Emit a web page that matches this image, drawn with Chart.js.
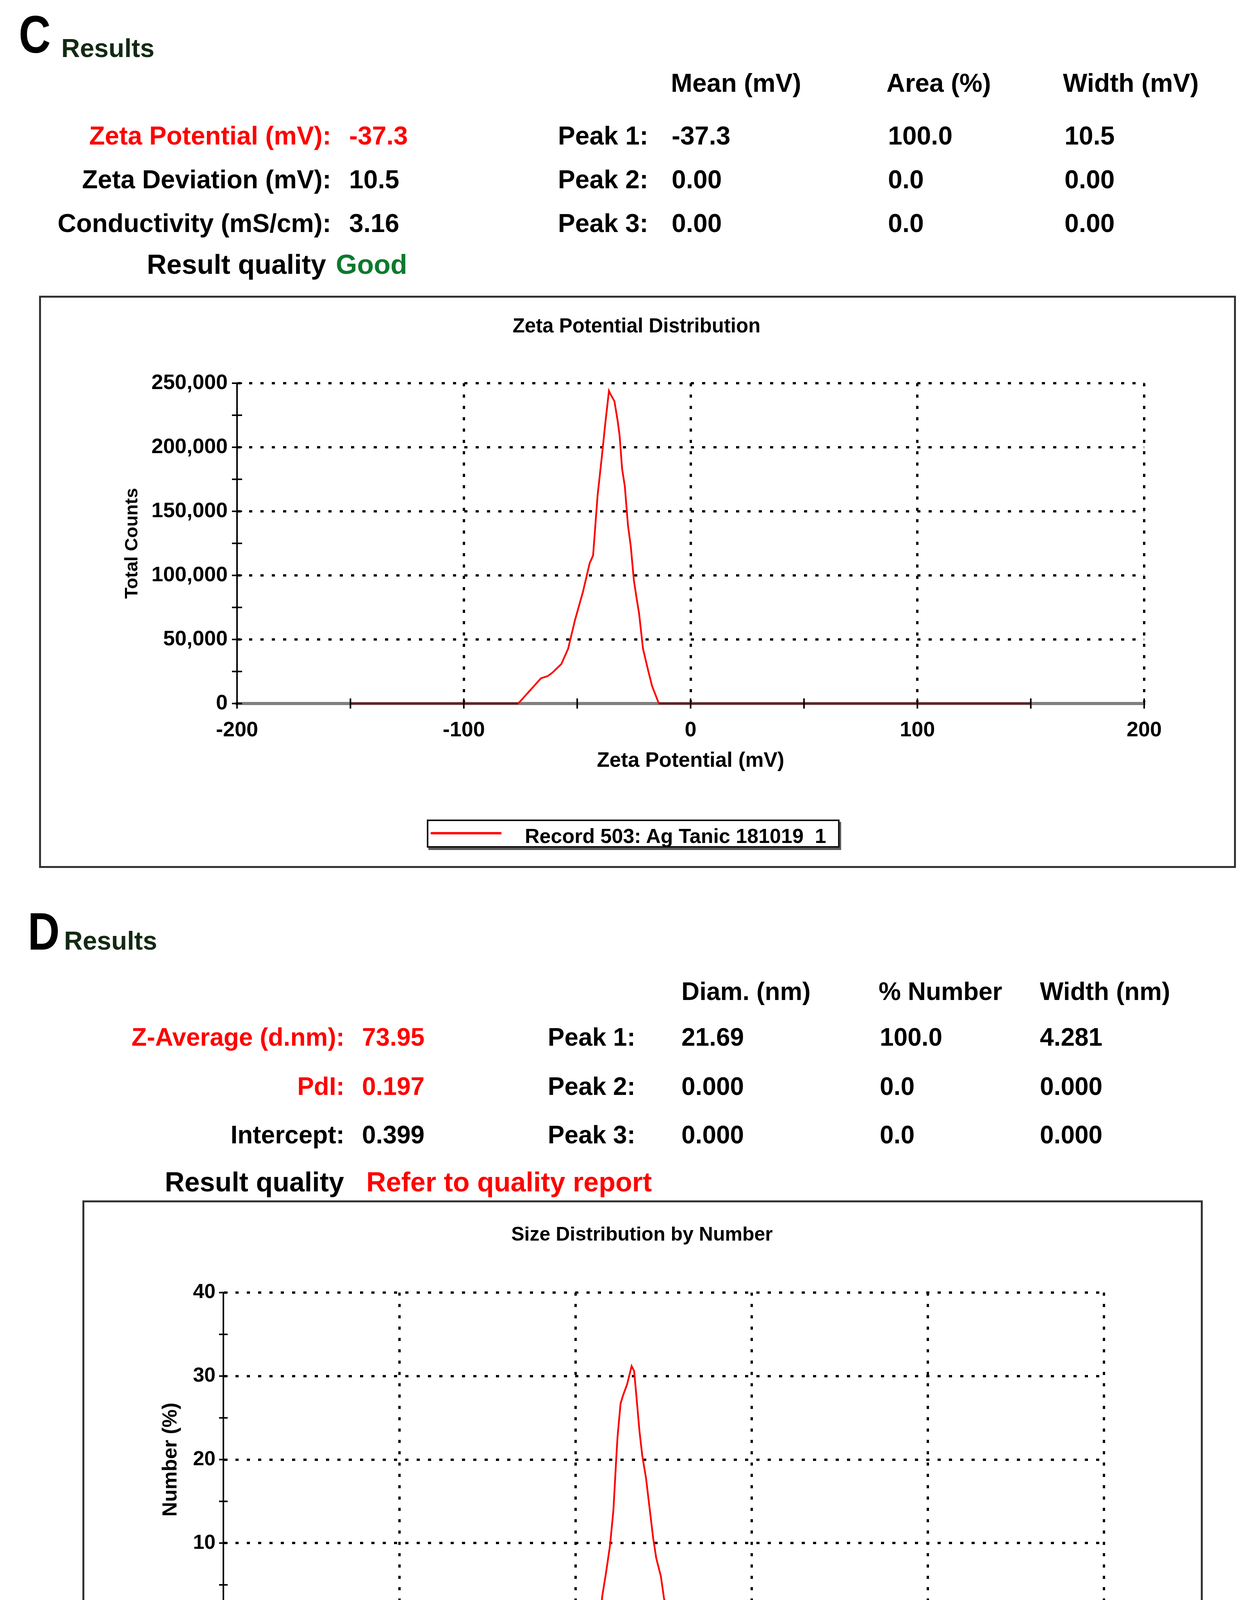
<!DOCTYPE html>
<html>
<head>
<meta charset="utf-8">
<title>Zeta potential and size distribution</title>
<script src="https://cdn.jsdelivr.net/npm/chart.js@4.4.1/dist/chart.umd.min.js"></script>
<style>
  body { margin: 0; background: #fff; }
  #page { position: relative; width: 3201px; height: 4631px; overflow: hidden; background: #fff; }
  .t { position: absolute; white-space: nowrap; line-height: 1; font-family: "Liberation Sans", Arial, Helvetica, sans-serif; font-weight: bold; color: #000; }
  .s66 { font-size: 66px; }
  .s64 { font-size: 64px; }
  .s70 { font-size: 70px; }
  .red { color: #ff0000; }
  .green { color: #0b7a2e; }
  .big { font-size: 135px; transform: scaleX(0.84); transform-origin: left top; }
  .res { font-size: 66px; color: #122a12; }
  .ctitle { transform: translateX(-50%); }
  .box { position: absolute; box-sizing: border-box; border: 5px solid #333; }
  .legend { position: absolute; box-sizing: border-box; border: 4px solid #111; background: #fff; box-shadow: 4px 6px 0 #5a5a5a; }
  .lline { position: absolute; background: #ff0000; }
  canvas { position: absolute; }
</style>
</head>
<body>
<div id="page">
  <!-- panel C header -->
  <div class="t big" style="left:48px; top:21px;">C</div>
  <div class="t res" style="left:157px; top:90px;">Results</div>

  <div class="t s66" style="left:1718px; top:179px;">Mean (mV)</div>
  <div class="t s66" style="left:2270px; top:179px;">Area (%)</div>
  <div class="t s66" style="left:2722px; top:179px;">Width (mV)</div>

  <div class="t s66 red" style="right:2353px; top:314px;">Zeta Potential (mV):</div>
  <div class="t s66 red" style="left:894px; top:314px;">-37.3</div>
  <div class="t s66" style="right:1541px; top:314px;">Peak 1:</div>
  <div class="t s66" style="left:1720px; top:314px;">-37.3</div>
  <div class="t s66" style="left:2274px; top:314px;">100.0</div>
  <div class="t s66" style="left:2726px; top:314px;">10.5</div>

  <div class="t s66" style="right:2353px; top:426px;">Zeta Deviation (mV):</div>
  <div class="t s66" style="left:894px; top:426px;">10.5</div>
  <div class="t s66" style="right:1541px; top:426px;">Peak 2:</div>
  <div class="t s66" style="left:1720px; top:426px;">0.00</div>
  <div class="t s66" style="left:2274px; top:426px;">0.0</div>
  <div class="t s66" style="left:2726px; top:426px;">0.00</div>

  <div class="t s66" style="right:2353px; top:538px;">Conductivity (mS/cm):</div>
  <div class="t s66" style="left:894px; top:538px;">3.16</div>
  <div class="t s66" style="right:1541px; top:538px;">Peak 3:</div>
  <div class="t s66" style="left:1720px; top:538px;">0.00</div>
  <div class="t s66" style="left:2274px; top:538px;">0.0</div>
  <div class="t s66" style="left:2726px; top:538px;">0.00</div>

  <div class="t s70" style="left:376px; top:642px;">Result quality</div>
  <div class="t s70 green" style="left:860px; top:642px;">Good</div>

  <!-- panel C chart -->
  <div class="box" style="left:100px; top:757px; width:3065px; height:1465px;"></div>
  <div class="t ctitle" style="left:1630px; top:808px; font-size:51px;">Zeta Potential Distribution</div>
  <canvas id="zetaChart" width="2800" height="1130" style="left:250px; top:900px; width:2800px; height:1130px;"></canvas>
  <div class="legend" style="left:1093px; top:2098px; width:1057px; height:72px;"></div>
  <div class="lline" style="left:1103px; top:2130px; width:181px; height:6px;"></div>
  <div class="t" style="left:1344px; top:2114px; font-size:52px;">Record 503: Ag Tanic 181019&nbsp; 1</div>

  <!-- panel D header -->
  <div class="t big" style="left:71px; top:2317px;">D</div>
  <div class="t res" style="left:164px; top:2375px;">Results</div>

  <div class="t s64" style="left:1745px; top:2506px;">Diam. (nm)</div>
  <div class="t s64" style="left:2250px; top:2506px;">% Number</div>
  <div class="t s64" style="left:2663px; top:2506px;">Width (nm)</div>

  <div class="t s64 red" style="right:2319px; top:2623px;">Z-Average (d.nm):</div>
  <div class="t s64 red" style="left:927px; top:2623px;">73.95</div>
  <div class="t s64" style="right:1574px; top:2623px;">Peak 1:</div>
  <div class="t s64" style="left:1745px; top:2623px;">21.69</div>
  <div class="t s64" style="left:2253px; top:2623px;">100.0</div>
  <div class="t s64" style="left:2663px; top:2623px;">4.281</div>

  <div class="t s64 red" style="right:2319px; top:2749px;">PdI:</div>
  <div class="t s64 red" style="left:927px; top:2749px;">0.197</div>
  <div class="t s64" style="right:1574px; top:2749px;">Peak 2:</div>
  <div class="t s64" style="left:1745px; top:2749px;">0.000</div>
  <div class="t s64" style="left:2253px; top:2749px;">0.0</div>
  <div class="t s64" style="left:2663px; top:2749px;">0.000</div>

  <div class="t s64" style="right:2319px; top:2873px;">Intercept:</div>
  <div class="t s64" style="left:927px; top:2873px;">0.399</div>
  <div class="t s64" style="right:1574px; top:2873px;">Peak 3:</div>
  <div class="t s64" style="left:1745px; top:2873px;">0.000</div>
  <div class="t s64" style="left:2253px; top:2873px;">0.0</div>
  <div class="t s64" style="left:2663px; top:2873px;">0.000</div>

  <div class="t s70" style="left:422px; top:2991px;">Result quality</div>
  <div class="t s70 red" style="left:938px; top:2991px;">Refer to quality report</div>

  <!-- panel D chart -->
  <div class="box" style="left:211px; top:3073px; width:2869px; height:1530px;"></div>
  <div class="t ctitle" style="left:1644px; top:3134px; font-size:50px;">Size Distribution by Number</div>
  <canvas id="sizeChart" width="2750" height="1140" style="left:250px; top:3230px; width:2750px; height:1140px;"></canvas>
  <div class="legend" style="left:1148px; top:4475px; width:985px; height:72px;"></div>
  <div class="lline" style="left:1157px; top:4507px; width:177px; height:5px;"></div>
  <div class="t" style="left:1390px; top:4491px; font-size:51px;">Record 479: Ag tanic 181019 1</div>
</div>

<script>
// data

// C) zeta potential distribution
const zetaMv = [-150, -76, -66, -63, -61, -57, -54, -51, -47.5, -44.5, -43, -41, -39.3, -37.6, -36, -35.5,
  -33.6, -32.2, -31.3, -30.2, -29, -27.6, -26.4, -25, -23.8, -22.7, -21, -18.7, -17, -14, 150];
const zetaCounts = [0, 0, 19700, 21400, 24000, 30800, 42800, 65000, 87000, 109600, 115600, 162700, 190000, 219000, 244000, 242000,
  236000, 221000, 209000, 183000, 169500, 138700, 123000, 95900, 82000, 70000, 42800, 25700, 13700, 0, 0];
const zetaXLabels = [-200, -100, 0, 100, 200];
const zetaYLabels = [0, 50000, 100000, 150000, 200000, 250000];

// D) size distribution by number
const sizeNm = [0.4, 13.6, 14.2, 14.9, 15.7, 16.4, 17.0, 17.3, 18.0, 18.6, 19.6, 20.8, 21.5, 22.1, 23.05,
  23.9, 25.1, 26.2, 27.6, 28.7, 30.5, 31.8, 33.5, 36.5, 39.8, 41.9, 10000];
const sizeNumber = [0, 0, 3.8, 6.5, 9.8, 14.0, 20.0, 22.7, 26.7, 27.7, 29.0, 31.2, 30.6, 27.8, 23.4,
  20.5, 17.8, 14.5, 10.5, 8.2, 6.0, 3.3, 2.2, 0.9, 0.3, 0, 0];
const sizeXLabels = [0.1, 1, 10, 100, 1000, 10000];
const sizeYLabels = [0, 10, 20, 30, 40];

const RED = "#ff0000";
const DOTS = [8, 21];
Chart.defaults.font.family = "'Liberation Sans', Arial, Helvetica, sans-serif";
Chart.defaults.font.weight = "bold";
Chart.defaults.color = "#000";

// minor ticks on the log axis: 1..9 in each decade
const sizeTickValues = sizeXLabels
  .slice(0, -1)
  .flatMap((d) => [1, 2, 3, 4, 5, 6, 7, 8, 9].map((m) => +(m * d).toPrecision(3)))
  .concat([sizeXLabels[sizeXLabels.length - 1]]);

// dotted grid only on labelled ticks, not on the axis itself
function gridColor(labels, edge) {
  return (c) =>
    c.tick && labels.includes(c.tick.value) && c.tick.value !== edge ? "#000" : "rgba(0,0,0,0)";
}

// flat zero segments sit on the grey axis and look dark red
const flatSeg = (c) => (c.p0.parsed.y === 0 && c.p1.parsed.y === 0 ? "#7a0000" : undefined);

// tick marks that cross the axis lines
const crossTicks = {
  id: "crossTicks",
  afterDatasetsDraw(chart, args, opts) {
    const { ctx, chartArea: a, scales } = chart;
    ctx.save();
    ctx.strokeStyle = "#000";
    ctx.lineWidth = opts.width;
    ctx.beginPath();
    scales.x.ticks.forEach((t) => {
      const px = scales.x.getPixelForValue(t.value);
      ctx.moveTo(px, a.bottom - opts.len);
      ctx.lineTo(px, a.bottom + opts.len);
    });
    scales.y.ticks.forEach((t) => {
      const py = scales.y.getPixelForValue(t.value);
      ctx.moveTo(a.left - opts.len, py);
      ctx.lineTo(a.left + opts.len, py);
    });
    ctx.stroke();
    ctx.restore();
  },
};

function zetaChart() {
  new Chart(document.getElementById("zetaChart"), {
    type: "line",
    data: {
      datasets: [
        {
          data: zetaMv.map((x, i) => ({ x, y: zetaCounts[i] })),
          borderColor: RED,
          borderWidth: 4.5,
          pointRadius: 0,
          clip: false,
          segment: { borderColor: flatSeg },
        },
      ],
    },
    options: {
      responsive: false,
      animation: false,
      events: [],
      layout: { padding: { left: 0, right: 120, top: 81, bottom: 0 } },
      plugins: {
        legend: { display: false },
        tooltip: { enabled: false },
        crossTicks: { len: 13, width: 4 },
      },
      scales: {
        x: {
          type: "linear",
          min: -200,
          max: 200,
          afterFit: (s) => { s.height = 229; },
          ticks: {
            stepSize: 50,
            autoSkip: false,
            maxRotation: 0,
            padding: 42,
            font: { size: 54, lineHeight: 1 },
            callback: (v) => (zetaXLabels.includes(v) ? String(v) : ""),
          },
          grid: { drawTicks: false, lineWidth: 6, color: gridColor(zetaXLabels, -200) },
          border: { color: "#7f7f7f", width: 8, dash: DOTS },
          title: {
            display: true,
            text: "Zeta Potential (mV)",
            font: { size: 53, lineHeight: 1 },
            padding: { top: 0, bottom: 55 },
          },
        },
        y: {
          min: 0,
          max: 250000,
          afterFit: (s) => { s.width = 357; },
          ticks: {
            stepSize: 25000,
            autoSkip: false,
            padding: 24,
            font: { size: 54, lineHeight: 1 },
            callback: (v) => (zetaYLabels.includes(v) ? v.toLocaleString("en-US") : ""),
          },
          grid: { drawTicks: false, lineWidth: 6, color: gridColor(zetaYLabels, 0) },
          border: { color: "#000", width: 4, dash: DOTS },
          title: {
            display: true,
            text: "Total Counts",
            font: { size: 47, lineHeight: 1 },
            padding: { top: 66, bottom: 0 },
          },
        },
      },
    },
    plugins: [crossTicks],
  });
}

function sizeChart() {
  new Chart(document.getElementById("sizeChart"), {
    type: "line",
    data: {
      datasets: [
        {
          data: sizeNm.map((x, i) => ({ x, y: sizeNumber[i] })),
          borderColor: RED,
          borderWidth: 4.5,
          pointRadius: 0,
          clip: false,
          segment: { borderColor: flatSeg },
        },
      ],
    },
    options: {
      responsive: false,
      animation: false,
      events: [],
      layout: { padding: { left: 0, right: 173, top: 79, bottom: 0 } },
      plugins: {
        legend: { display: false },
        tooltip: { enabled: false },
        crossTicks: { len: 11, width: 4 },
      },
      scales: {
        x: {
          type: "logarithmic",
          min: 0.1,
          max: 10000,
          afterBuildTicks: (s) => { s.ticks = sizeTickValues.map((v) => ({ value: v })); },
          afterFit: (s) => { s.height = 206; },
          ticks: {
            autoSkip: false,
            maxRotation: 0,
            padding: 43,
            font: { size: 51, lineHeight: 1 },
            callback: (v) => (sizeXLabels.includes(v) ? String(v) : ""),
          },
          grid: { drawTicks: false, lineWidth: 6, color: gridColor(sizeXLabels, 0.1) },
          border: { color: "#6e6e6e", width: 7, dash: DOTS },
          title: {
            display: true,
            text: "Size (d.nm)",
            font: { size: 51, lineHeight: 1 },
            padding: { top: 0, bottom: 25 },
          },
        },
        y: {
          min: 0,
          max: 40,
          afterFit: (s) => { s.width = 322; },
          ticks: {
            stepSize: 5,
            autoSkip: false,
            padding: 20,
            font: { size: 52, lineHeight: 1 },
            callback: (v) => (sizeYLabels.includes(v) ? String(v) : ""),
          },
          grid: { drawTicks: false, lineWidth: 6, color: gridColor(sizeYLabels, 0) },
          border: { color: "#000", width: 4, dash: DOTS },
          title: {
            display: true,
            text: "Number (%)",
            font: { size: 52, lineHeight: 1 },
            padding: { top: 162, bottom: 0 },
          },
        },
      },
    },
    plugins: [crossTicks],
  });
}

zetaChart();
sizeChart();
</script>
</body>
</html>
